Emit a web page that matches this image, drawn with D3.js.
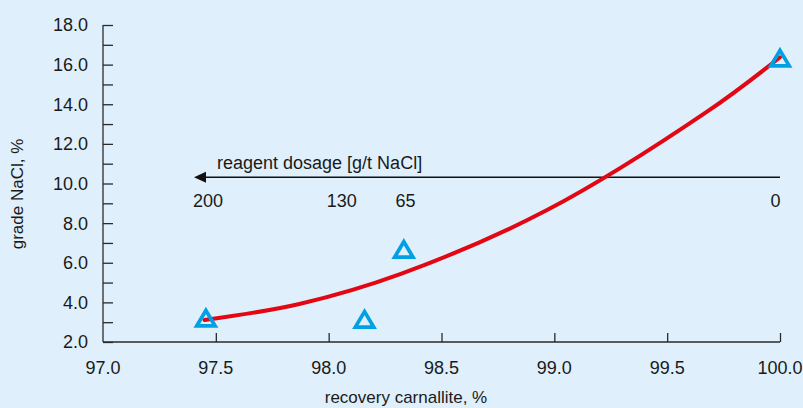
<!DOCTYPE html>
<html>
<head>
<meta charset="utf-8">
<script src="https://cdn.jsdelivr.net/npm/d3@7/dist/d3.min.js"></script>
<style>
  html, body { margin: 0; padding: 0; background: #dff0fc; }
  svg { display: block; }
  text { font-family: "Liberation Sans", Arial, sans-serif; fill: #1a1a1a; }
</style>
</head>
<body>
<svg id="chart" width="803" height="408"></svg>
<script>
// Measured points: recovery of carnallite vs. NaCl grade
const recovery = [97.456, 98.159, 98.333, 100.0];
const grade    = [3.07, 3.01, 6.54, 16.2];

// Fitted trend curve
const fitRecovery = [97.45, 97.87, 98.32, 98.97, 99.68, 100.0];
const fitGrade    = [3.11, 3.92, 5.44, 8.67, 13.65, 16.37];

// Reagent dosage labels and the recovery each one sits at
const dosageLabels   = ["200", "130", "65", "0"];
const dosageRecovery = [97.465, 98.058, 98.34, 99.98];

const xTicks = [97.0, 97.5, 98.0, 98.5, 99.0, 99.5, 100.0];
const yTicks = d3.range(2, 19, 1);
const yLabels = [2, 4, 6, 8, 10, 12, 14, 16, 18];

const svg = d3.select("#chart");
const x = d3.scaleLinear().domain([97, 100]).range([103, 780]);
const y = d3.scaleLinear().domain([2, 18]).range([342, 25]);

const axisColor = "#2a2a2a";

// y axis with inward ticks
const yAxis = svg.append("g").attr("transform", `translate(${x(97)},0)`)
  .call(d3.axisRight(y).tickValues(yTicks).tickSize(10).tickFormat(""));
yAxis.select(".domain").attr("stroke", axisColor).attr("stroke-width", 1.3)
  .attr("d", `M0,${y(18)}V${y(2)}`);
yAxis.selectAll(".tick line").attr("stroke", axisColor).attr("stroke-width", 1.3);

svg.append("g").selectAll("text").data(yLabels).join("text")
  .attr("x", x(97) - 15).attr("y", d => y(d)).attr("dy", "0.36em")
  .attr("text-anchor", "end").attr("font-size", 18)
  .text(d => d3.format(".1f")(d));

// x axis with inward ticks
const xAxis = svg.append("g").attr("transform", `translate(0,${y(2)})`)
  .call(d3.axisTop(x).tickValues(xTicks).tickSize(9).tickFormat(""));
xAxis.select(".domain").attr("stroke", axisColor).attr("stroke-width", 1.3)
  .attr("d", `M${x(97)},0H${x(100)}`);
xAxis.selectAll(".tick line").attr("stroke", axisColor).attr("stroke-width", 1.3);
xAxis.selectAll(".tick").filter(d => d === 97).select("line").attr("y2", 0);

svg.append("g").selectAll("text").data(xTicks).join("text")
  .attr("x", d => x(d)).attr("y", 374)
  .attr("text-anchor", "middle").attr("font-size", 18)
  .text(d => d3.format(".1f")(d));

// axis titles
svg.append("text")
  .attr("transform", `translate(23,194) rotate(-90)`)
  .attr("text-anchor", "middle").attr("font-size", 17)
  .text("grade NaCl, %");
svg.append("text")
  .attr("x", 406).attr("y", 403)
  .attr("text-anchor", "middle").attr("font-size", 17)
  .text("recovery carnallite, %");

// reagent dosage arrow, pointing towards higher dosage
const arrowY = 177.3;
svg.append("line")
  .attr("x1", x(100)).attr("x2", 200)
  .attr("y1", arrowY).attr("y2", arrowY)
  .attr("stroke", "#111").attr("stroke-width", 1.4);
svg.append("path")
  .attr("d", `M194,${arrowY}L206,${arrowY - 5.5}L206,${arrowY + 5.5}Z`)
  .attr("fill", "#111");
svg.append("text")
  .attr("x", 217).attr("y", 169).attr("font-size", 18)
  .text("reagent dosage [g/t NaCl]");
svg.append("g").selectAll("text").data(dosageLabels).join("text")
  .attr("x", (d, i) => x(dosageRecovery[i])).attr("y", 207)
  .attr("text-anchor", "middle").attr("font-size", 18)
  .text(d => d);

// trend curve
const line = d3.line()
  .x(d => x(d[0])).y(d => y(d[1]))
  .curve(d3.curveCatmullRom.alpha(0.5));
svg.append("path")
  .datum(fitRecovery.map((r, i) => [r, fitGrade[i]]))
  .attr("d", line)
  .attr("fill", "none").attr("stroke", "#e30613")
  .attr("stroke-width", 4).attr("stroke-linecap", "round");

// measured points as open triangles
function triangle(cx, cy) {
  const h = 15.5, w = 9.2;
  return `M${cx},${cy - h * 2 / 3}L${cx + w},${cy + h / 3}L${cx - w},${cy + h / 3}Z`;
}
svg.append("g").selectAll("path").data(recovery).join("path")
  .attr("d", (d, i) => triangle(x(d), y(grade[i])))
  .attr("fill", "none").attr("stroke", "#00a0e3")
  .attr("stroke-width", 3.7).attr("stroke-linejoin", "miter");
</script>
</body>
</html>
